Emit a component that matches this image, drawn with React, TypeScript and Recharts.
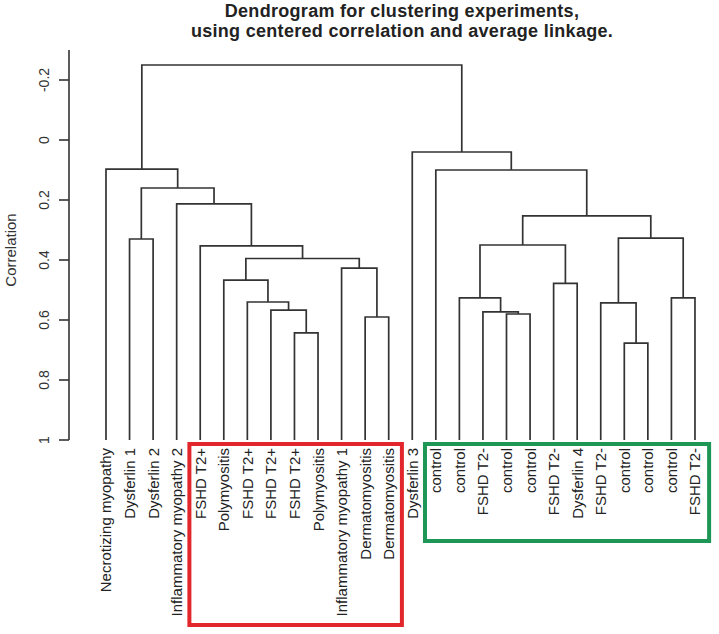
import React from 'react';
import { LineChart, Line, XAxis, YAxis, ReferenceArea } from 'recharts';

// leaves in dendrogram order (left to right)
const LEAF_LABELS = [
  'Necrotizing myopathy',
  'Dysferlin 1',
  'Dysferlin 2',
  'Inflammatory myopathy 2',
  'FSHD T2+',
  'Polymyositis',
  'FSHD T2+',
  'FSHD T2+',
  'FSHD T2+',
  'Polymyositis',
  'Inflammatory myopathy 1',
  'Dermatomyositis',
  'Dermatomyositis',
  'Dysferlin 3',
  'control',
  'control',
  'FSHD T2-',
  'control',
  'control',
  'FSHD T2-',
  'Dysferlin 4',
  'FSHD T2-',
  'control',
  'control',
  'control',
  'FSHD T2-',
];

// hclust-style merges: negative = leaf (1-based), positive = earlier merge (1-based)
const MERGES: [number, number][] = [
  [-9, -10],
  [-8, 1],
  [-7, 2],
  [-6, 3],
  [-12, -13],
  [-11, 5],
  [4, 6],
  [-5, 7],
  [-4, 8],
  [-2, -3],
  [10, 9],
  [-1, 11],
  [-18, -19],
  [-17, 13],
  [-16, 14],
  [-20, -21],
  [15, 16],
  [-23, -24],
  [-22, 18],
  [-25, -26],
  [19, 20],
  [17, 21],
  [-15, 22],
  [-14, 23],
  [12, 24],
];

const MERGE_HEIGHTS = [
  0.643, 0.567, 0.54, 0.467, 0.59, 0.427, 0.395, 0.353, 0.213, 0.33, 0.16, 0.097,
  0.58, 0.573, 0.526, 0.478, 0.35, 0.677, 0.543, 0.526, 0.327, 0.253, 0.1, 0.04, -0.25,
];

const Y_TICKS = [-0.2, 0, 0.2, 0.4, 0.6, 0.8, 1];
const LEAF_TICKS = LEAF_LABELS.map((_, i) => i + 1);

// highlighted leaf groups (first leaf, last leaf)
const RED_GROUP = [5, 13];
const GREEN_GROUP = [15, 26];

const FONT = '"Liberation Sans", Arial, sans-serif';
const LINE = '#333333';

function buildSegments() {
  const nodeX: number[] = [];
  const nodeY: number[] = [];
  const pos = (ref: number) =>
    ref < 0 ? { x: -ref, y: 1 } : { x: nodeX[ref - 1], y: nodeY[ref - 1] };
  return MERGES.map(([a, b], i) => {
    const pa = pos(a);
    const pb = pos(b);
    const h = MERGE_HEIGHTS[i];
    nodeX[i] = (pa.x + pb.x) / 2;
    nodeY[i] = h;
    return [
      { x: pa.x, y: pa.y },
      { x: pa.x, y: h },
      { x: pb.x, y: h },
      { x: pb.x, y: pb.y },
    ];
  });
}

function LeafTick(props: any) {
  const { x, y, payload } = props;
  const label = LEAF_LABELS[payload.value - 1];
  return (
    <text
      x={x}
      y={y}
      transform={`rotate(-90, ${x}, ${y})`}
      textAnchor="end"
      dominantBaseline="central"
      fontSize={15}
      fontFamily={FONT}
      fill="#222"
    >
      {label}
    </text>
  );
}

function CorrTick(props: any) {
  const { x, y, payload } = props;
  const cx = x - 13;
  return (
    <text
      x={cx}
      y={y}
      transform={`rotate(-90, ${cx}, ${y})`}
      textAnchor="middle"
      dominantBaseline="central"
      fontSize={14}
      fontFamily={FONT}
      fill="#333"
    >
      {String(payload.value)}
    </text>
  );
}

export default function App() {
  const segments = buildSegments();

  return (
    <div style={{ position: 'absolute', left: 0, top: 0, width: 719, height: 634, background: '#fff' }}>
      <div
        style={{
          position: 'absolute',
          left: 0,
          top: 1,
          width: 804,
          textAlign: 'center',
          fontFamily: FONT,
          fontWeight: 'bold',
          fontSize: 18,
          lineHeight: '20px',
          letterSpacing: 0.3,
          color: '#222',
        }}
      >
        <div>Dendrogram for clustering experiments,</div>
        <div>using centered correlation and average linkage.</div>
      </div>
      <LineChart width={719} height={634} margin={{ top: 50, right: 4, left: 0, bottom: 0 }}>
        <XAxis
          type="number"
          dataKey="x"
          domain={[-0.57, 26.85]}
          allowDataOverflow
          ticks={LEAF_TICKS}
          interval={0}
          tick={<LeafTick />}
          axisLine={false}
          tickLine={false}
          height={194}
        />
        <YAxis
          type="number"
          domain={[-0.3, 1]}
          allowDataOverflow
          reversed
          ticks={Y_TICKS}
          interval={0}
          width={69}
          tickSize={10}
          tick={<CorrTick />}
          axisLine={{ stroke: LINE, strokeWidth: 1.6 }}
          tickLine={{ stroke: LINE, strokeWidth: 1.6 }}
          label={{
            content: (p: any) => {
              const vb = p.viewBox || { y: 50, height: 390 };
              const cy = vb.y + vb.height / 2 + 5;
              return (
                <text
                  x={10}
                  y={cy}
                  transform={`rotate(-90, 10, ${cy})`}
                  textAnchor="middle"
                  dominantBaseline="central"
                  fontSize={15}
                  fontFamily={FONT}
                  fill="#333"
                >
                  Correlation
                </text>
              );
            },
          }}
        />
        {segments.map((seg, i) => (
          <Line
            key={`seg-${i}`}
            data={seg}
            dataKey="y"
            type="linear"
            stroke={LINE}
            strokeWidth={1.7}
            dot={false}
            activeDot={false}
            legendType="none"
            isAnimationActive={false}
          />
        ))}
        <ReferenceArea
          x1={RED_GROUP[0] - 0.46}
          x2={RED_GROUP[1] + 0.56}
          y1={1.013}
          y2={1.617}
          ifOverflow="visible"
          fill="none"
          fillOpacity={0}
          stroke="#e3262b"
          strokeWidth={4}
        />
        <ReferenceArea
          x1={GREEN_GROUP[0] - 0.46}
          x2={GREEN_GROUP[1] + 0.6}
          y1={1.013}
          y2={1.337}
          ifOverflow="visible"
          fill="none"
          fillOpacity={0}
          stroke="#1e9656"
          strokeWidth={4}
        />
      </LineChart>
    </div>
  );
}
